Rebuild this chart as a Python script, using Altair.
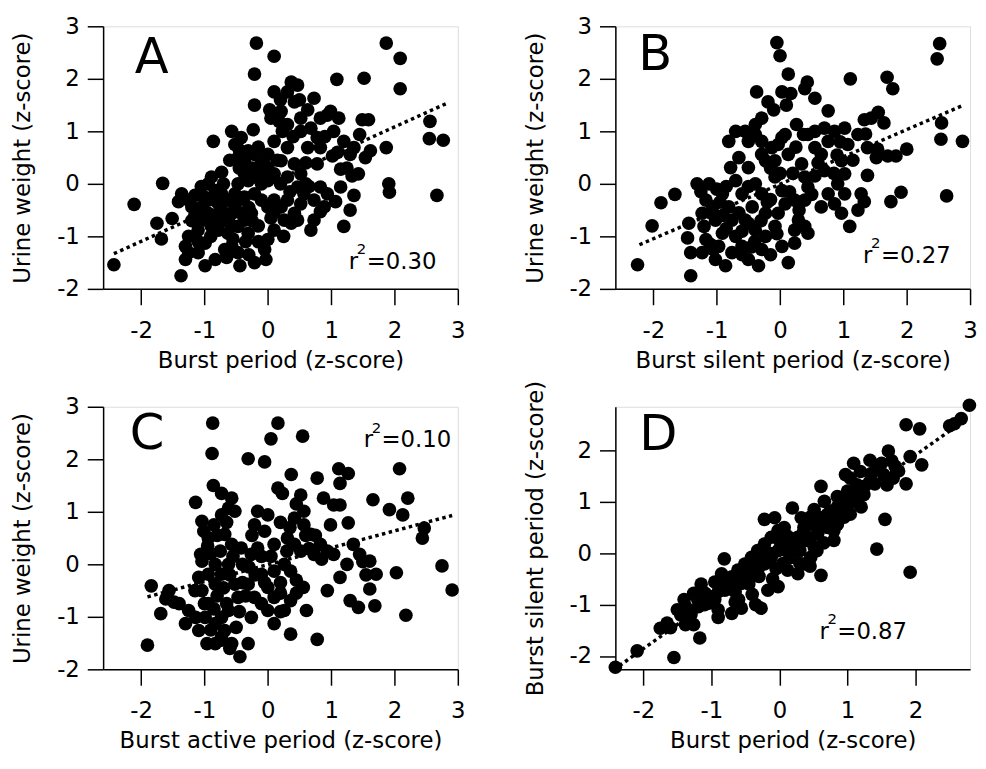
import altair as alt
import pandas as pd

FONT = "DejaVu Sans"

# ---------------- Panel A: Burst period vs Urine weight ----------------
a_x = [-0.18, 0.10, -0.21, 1.87, 2.09, 2.09, 1.09, 1.52, 2.56, 2.55, 2.77, 2.67, 1.91, 1.92,
       -2.43, -2.11, -1.66, -1.75, -1.68, -1.51, -1.37, -0.86, 1.20, 1.30, 1.36, 0.68, 1.07,
       1.43, 1.33, 1.87, 1.62, 1.54, 1.59, 1.49, 1.45, 1.15, 1.02, 1.30, 1.36, 1.20, 1.04,
       1.12, 0.99, 0.73, 0.63, 0.52, 0.68, 0.78, 0.83, 0.63, 0.78, 0.52, 0.47, 0.57, 0.52,
       0.73, 0.83, 0.89, 0.83, 0.31, 0.37, 0.47, 0.31, 0.42, 0.10, 0.21, 0.18, 0.03, -0.21,
       0.23, 0.10, 0.00, -0.10, -0.23, -0.57, -0.42, -0.52, -0.47, -0.37, -0.31, -0.21, -0.10,
       0.00, 0.10, 0.00, -0.10, -0.21, -0.37, -0.31, -0.47, -0.73, -0.89, -0.94, -0.83, -0.73,
       -0.63, -0.52, -0.37, -0.21, -0.10, 0.00, 0.10, 0.21, 0.31, 0.26, 0.37, 0.47, 0.10, 0.00,
       -0.05, -0.21, -0.03, -0.44, -0.47, -0.57, -0.63, -0.47, -0.37, -0.26, -0.31, -0.73,
       -0.78, -0.68, -0.94, -1.04, -1.10, -1.25, -1.30, -1.25, -1.30, -1.10, -0.99, -0.83,
       -0.68, -0.99, -1.36, -1.25, -1.15, -1.20, -1.41, -1.04, -0.94, -0.89, -0.52, -0.42,
       0.31, 0.42, 0.21, 0.31, 0.05, 0.52, 0.83, 0.94, 0.42, 0.94, 1.15, 0.73,
       -0.45, -0.15, -0.05, -0.60, -0.25, -0.80, -0.60, -0.55, -0.90, -1.15, -0.35, -0.15,
       -0.45, -0.65, -0.85, -1.00, -0.30, -0.70, -1.20, 0.60, 0.90, 0.50, 0.20, 1.10, 0.40,
       0.15, 1.25, 0.35, 0.65, 0.20, 0.10, 0.25, -0.15, 0.60,
       -1.05, -0.75, -0.55, -0.30, -0.90, -0.60, -0.25, 0.05, -1.10, -0.45]
a_y = [2.68, 2.43, 2.09, 2.68, 2.39, 1.81, 1.99, 2.01, 1.19, 0.86, 0.83, -0.22, 0.00, -0.16,
       -1.54, -0.39, 0.01, -0.75, -1.05, -0.66, -1.75, 0.81, -0.81, -0.50, -0.22, -0.88, -0.34,
       0.19, 0.15, 0.69, 0.63, 0.50, 1.22, 1.22, 0.94, 0.28, 0.53, 0.56, 0.69, 0.81, 1.00,
       1.25, 1.38, 1.63, 1.41, 1.00, 1.06, 0.88, 0.69, 0.69, 0.38, 0.19, -0.06, -0.19, -0.38,
       -0.31, -0.06, -0.44, -0.53, 0.69, 1.94, 1.88, 1.75, 1.56, 1.75, 1.38, 1.19, 1.41, 1.50,
       1.00, 0.81, 0.56, 0.44, 1.03, 1.00, 0.88, 0.75, 0.50, 0.44, 0.63, 0.56, 0.25,
       0.31, 0.19, 0.06, 0.00, 0.13, 0.19, 0.06, 0.00, 0.22, 0.13, 0.00, -0.13, -0.19,
       -0.31, -0.19, -0.25, -0.19, -0.31, -0.44, -0.31, -0.44, -0.31, -0.69, -0.75, -0.69, -0.88, -1.06,
       -1.25, -1.50, -1.44, -1.56, -1.31, -1.19, -0.94, -0.81, -0.69, -0.56, -0.94, -0.69,
       -0.88, -0.56, -0.56, -0.69, -0.88, -1.00, -1.19, -1.31, -1.44, -1.31, -1.56, -1.44,
       -1.25, -1.13, -0.19, -0.31, -0.22, -0.44, -0.34, -0.44, -0.31, -0.81, -0.44, -0.56,
       0.13, 0.38, 0.44, 1.13, 1.25, 1.25, 1.25, 1.31, -0.56, -0.19, -0.06, -0.69,
       0.65, 0.70, 0.35, 0.45, 0.30, -0.35, -0.75, -1.05, -1.00, -0.60, -1.10, -0.80,
       -0.30, -1.40, -0.60, -0.25, -1.35, 0.00, -0.70, 0.40, 0.90, 1.60, 1.60, 0.60, 0.90,
       0.45, 0.30, -0.15, -0.05, 0.00, -0.55, -1.00, -1.10, 0.00,
       -0.05, -0.45, -0.55, -0.45, -0.75, -1.30, -0.70, -0.65, -1.10, 0.30]
a_fit_x = [-2.43, 2.82]
a_fit_y = [-1.33, 1.53]

# ---------------- Panel B: Burst silent period vs Urine weight ----------------
b_x = [-2.25, -2.02, -1.88, -1.66, -1.41, -1.44, -1.46, -1.41, -1.31, -1.12, -1.17, -1.23, -1.20,
       -1.17, -1.23, -1.02, -0.97, -0.91, -1.02, -1.07, -0.91, -0.81, -0.76, -0.86, -0.76, -0.70,
       -0.60, -0.50, -0.34, -0.29, -0.23, -0.39, -0.55, -0.44, -0.60, -0.70, -0.78, -0.65, -0.50,
       -0.39, -0.29, -0.23, -0.08, 0.03, 0.13, 0.23, 0.23, 0.39, 0.44, 0.29, -0.03, 0.08, 0.03,
       -0.08, -0.23, -0.29, -0.08, -0.13, 0.03, 0.13, 0.34, 0.39, 0.44, 0.39, 0.23, 0.65, 0.86,
       0.97, 1.10, 1.02, 0.91, 0.76, 1.02, 0.97, 1.07, 1.23, 1.02, 0.86, 0.70, 0.76, 0.65, 0.55,
       0.70, 0.44, 0.37, 0.26, 0.08, -0.03, -0.29, -0.39, -0.50, -0.55, -0.70, -0.81, -0.37,
       -0.19, -0.10, -0.29, -0.39, -0.05, 0.00, 0.13, 0.03, 0.17, 0.10, 0.43, 0.39, 0.55, 0.76,
       1.11, 1.69, 1.78, 1.33, 1.44, 1.55, 1.64, 1.38, 1.54, 1.52, 1.70, 1.83, 2.00, 1.38, 1.28,
       1.33, 1.23, 1.91, 1.75, 2.52, 2.48, 2.55, 2.54, 2.88, 2.63,
       -0.90, -0.60, -0.40, -0.15, -1.00, -0.50, -0.15, -1.10,
       -1.25, -1.10, -0.95, -0.85, -0.65, -0.50, -0.30, -0.20, -0.05, -0.60, -1.05, -0.45,
       -0.85, -0.15, 0.00, 0.20, 0.15, 0.55, 0.60, 0.90, 0.85, 1.15, 0.50, 0.30, 0.25, 0.55,
       0.95, 1.35]
b_y = [-1.54, -0.80, -0.36, -0.20, -1.75, -0.75, -1.03, -1.31, 0.00, 0.00, -0.31, -0.56, -0.81,
       -1.06, -1.31, -1.44, -1.19, -0.94, -0.69, -0.44, -0.19, -0.44, -0.69, -1.56, -1.31, -1.00,
       -1.19, -1.44, -1.56, -1.25, -1.00, -0.88, -0.69, -0.44, -0.19, 0.06, 0.31, 0.50, 0.31,
       0.00, -0.19, -0.56, -0.81, -1.19, -1.50, -1.13, -0.88, -0.81, -0.94, -0.69, -0.56, -0.38, -0.13,
       0.13, 0.44, 0.56, 0.44, 0.69, 0.88, 0.56, 0.38, 0.13, -0.06, -0.31, -0.31, -0.44, -0.38,
       -0.56, -0.81, -0.19, 0.00, -0.19, 0.19, 0.44, 0.75, 0.94, 1.06, 1.00, 1.06, 0.81, 0.56, 0.69,
       0.25, 0.94, 0.94, 1.13, 0.94, 0.75, 0.81, 0.94, 0.81, 1.00, 1.00, 0.81, 1.75,
       1.56, 1.41, 1.25, 1.13, 2.69, 2.44, 2.09, 1.75, 1.72, 1.50, 1.94, 1.81, 1.63, 1.39,
       2.00, 2.03, 1.81, 1.22, 1.25, 1.36, 1.16, 0.69, 0.66, 0.50, 0.53, 0.53, 0.66, 0.16, -0.19,
       -0.34, -0.50, -0.16, -0.34, 2.67, 2.38, 1.16, 0.85, 0.81, -0.23,
       -0.60, -0.90, -1.10, -0.30, -0.10, -0.05, -1.35, -1.15,
       -0.15, -0.55, -0.35, -0.85, -0.55, -0.75, -0.70, -0.35, -0.95, -1.35, -1.25, -1.20,
       -0.05, 0.30, 0.20, 0.20, -0.15, 0.15, 0.40, 0.55, 0.20, 0.45, -0.20, -0.50, 0.70, 1.00,
       0.80, 0.95]
b_fit_x = [-2.22, 2.88]
b_fit_y = [-1.16, 1.49]

# ---------------- Panel C: Burst active period vs Urine weight ----------------
c_x = [-0.87, 0.16, 0.05, 0.55, -0.88, -0.31, -0.05, 0.37, 0.78, 1.12, 1.27, 1.14, 2.08, 0.16,
       0.23, 0.52, 0.88, 1.04, 1.14, 1.66, 2.21, 1.92, 2.13, -0.86, -0.73, -0.57, -1.14, -1.04,
       -1.01, -0.94, -0.73, -0.62, -0.52, -0.68, -0.57, -0.42, -0.26, -0.16, -0.16, 0.00, -0.21,
       -0.05, 0.10, 0.31, 0.42, 0.57, 0.57, 0.68, 0.83, 0.42, 0.52, 0.73, 0.94, 1.04, 0.99, 1.27,
       1.35, 1.45, 1.61, 1.71, 1.25, 1.14, 0.94, 1.30, 1.43, 1.61, 1.69, 2.03, 2.47, 2.44,
       2.75, 2.91, 2.18, 0.56, 0.61, 0.78, 0.36, 0.36, 0.26, 0.10, 0.00, -0.10, 0.10, 0.26, 0.36,
       -0.31, -0.21, -0.26, 0.00, 0.10, -0.31, -0.44, -0.57, -0.68, -0.73, -0.62, -0.47, -0.52,
       -0.73, -0.62, -0.83, -0.94, -1.04, -1.06, -1.09, -1.04, -0.94, -0.83, -0.99, -1.09, -0.96,
       -0.83, -1.30, -1.25, -1.40, -1.69, -1.61, -1.48, -1.56, -1.84, -1.90, -1.14, -0.83, -0.73,
       -0.90, -0.80, -0.70, -0.60, -0.45, -0.35, -0.20, -0.40, -0.85, -0.75, 0.20, 0.45, 0.30,
       0.65, 0.75, 0.20, 0.45, -0.50, -0.90, -0.10, 0.20, 0.45, 1.50, 1.55, -1.15, -1.00,
       -0.95, -0.80, -0.65, -0.55, -0.30, -0.10, -0.25, 0.05, 0.35, 0.60, 0.85, -0.65, -0.85,
       -0.40, -0.05, 0.20, -0.75, -0.60]
c_y = [2.69, 2.69, 2.39, 2.44, 2.11, 2.01, 1.95, 1.71, 1.64, 1.82, 1.73, 1.54, 1.82, 1.45,
       1.35, 1.32, 1.26, 1.13, 1.13, 1.23, 1.26, 1.04, 0.94, 1.50, 1.35, 1.26, 1.18, 0.82,
       0.63, 0.50, 0.94, 1.07, 1.01, 0.57, 0.38, 0.31, 0.19, 0.31, 1.01, 0.94, 0.75,
       0.63, 0.38, 0.50, 0.88, 1.01, 0.75, 0.57, 0.38, 0.38, 0.25, 0.19, 0.25, 0.19, 0.75, 0.79,
       0.38, 0.19, 0.06, -0.19, 0.00, -0.25, -0.50, -0.69, -0.82, -0.47, -0.79, -0.16, 0.69, 0.50,
       -0.03, -0.49, -0.97, -0.44, -0.88, -1.43, -1.33, -0.69, -0.88, -0.63, -0.44, -0.19, -0.13, 0.00, -0.13,
       -0.38, -0.63, -1.01, -0.88, -1.13, -1.51, -1.76, -1.51, -1.26, -1.01, -0.88, -0.63, -0.38,
       -0.19, 0.00, 0.00, -0.19, 0.06, 0.19, -0.25, -0.50, -0.75, -0.38, -1.01, -1.26, -1.51,
       -1.51, -1.13, -0.88, -0.75, -0.94, -0.66, -0.72, -0.50, -0.41, -1.54, -1.01, -1.13, -1.38,
       0.20, -0.60, -0.45, -0.20, -0.90, -0.60, -0.20, 0.00, 0.75, 0.25, -0.35, -0.30, 0.25,
       0.30, 0.55, 0.80, 1.15, -1.20, -1.25, -0.75, -0.90, -0.55, 0.05, -0.20, -0.50, -0.75,
       0.35, 0.55, 0.80, 0.15, -0.05, 0.15, 0.55, 0.15, 0.70, 0.55, 0.10, -0.75, -0.85,
       -0.35, -0.35, -0.55, -1.45, -1.60]
c_fit_x = [-1.90, 2.91]
c_fit_y = [-0.62, 0.93]

# ---------------- Panel D: Burst period vs Burst silent period ----------------
d_x = [-2.41, -2.09, -1.55, -1.75, -1.65, -1.50, -1.38, -1.26, -1.17, -1.26, -1.38, -1.19, -1.04,
       -0.90, -0.70, -0.56, -0.27, -0.17, -0.02, -1.09, -0.95, -0.80, -0.85, -0.81, -0.70, -0.61,
       -0.51, -0.41, -0.32, -0.22, -0.12, -0.02, -0.56, -0.41, -0.32, -0.22, -0.12, -0.02, 0.07,
       -0.22, -0.07, 0.07, 0.19, 0.32, 0.36, 0.27, 0.17, 0.12, 0.27, 0.36, 0.46, 0.51, 0.61, 0.56,
       0.51, 0.61, 0.61, 0.66, 0.75, 0.85, 0.80, 0.70, 0.95, 1.00, 1.04, 1.04, 0.97, 1.09, 1.19,
       1.14, 1.24, 1.33, 1.33, 1.43, 1.53, 1.58, 1.60, 1.70, 1.67, 1.86, 1.55, 1.43, 1.92, 1.86,
       2.06, 1.92, 2.09, 2.79, 2.67, 2.57, 2.50,
       -1.00, -0.90, -0.75, -0.65, -0.45, -0.35, -0.15, 0.00, 0.10, 0.20, 0.30, 0.40, 0.50, 0.45,
       0.65, 0.80, 0.90, 1.10, 1.20, 0.85, 1.35, -1.45, -1.30, -0.60, -0.10, 0.05, -1.15, -1.40,
       -1.60, -1.30, -1.10, -0.95, -0.85, -0.70, -0.55, -0.45, -0.30, -0.25, -0.05, 0.10, 0.15,
       0.25, 0.35, 0.45, 0.55, 0.70, 0.75, 0.85, 0.95, 1.00, 1.15, 1.25, 1.40, 1.50, 1.65, 1.75,
       0.30, 0.45, 0.55, -0.65, -0.40, -0.35, -0.90, -1.20]
d_y = [-2.22, -1.90, -2.03, -1.46, -1.36, -1.10, -1.39, -1.39, -1.65, -0.78, -1.04, -1.04, -0.97,
       -1.10, -1.17, -1.07, -1.07, -0.72, -0.65, -0.78, -0.56, -0.72, -0.40, -0.11, -0.46, -0.33,
       -0.21, -0.08, 0.05, 0.18, 0.31, 0.44, -0.59, -0.46, -0.33, -0.21, -0.08, 0.05, 0.18,
       0.66, 0.69, 0.50, 0.88, 0.69, 0.50, 0.31, -0.08, -0.33, -0.40, -0.21, -0.08, 0.12, -0.43, 0.37,
       0.85, 0.69, 1.30, 1.01, 0.82, 0.56, 0.44, 0.50, 0.95, 1.21, 0.76, 1.46, 1.53, 1.75, 1.59,
       1.33, 1.14, 1.40, 1.81, 1.69, 1.53, 1.33, 1.99, 1.69, 1.46, 1.35, 0.66, 0.08, -0.37, 2.50,
       2.42, 1.88, 1.72, 2.88, 2.62, 2.52, 2.48,
       -0.85, -0.75, -0.60, -0.75, -0.35, -0.15, 0.00, 0.25, 0.35, 0.10, 0.05, 0.25, 0.55, 0.70,
       0.20, 0.25, 0.70, 1.00, 0.90, 1.10, 1.55, -1.20, -1.15, -0.90, -0.50, -0.20, -0.60, -0.90,
       -1.45, -1.20, -1.00, -0.90, -0.65, -0.70, -0.45, -0.60, -0.45, -0.10, -0.30, 0.05, 0.30,
       0.15, 0.40, 0.30, 0.60, 0.75, 0.60, 0.90, 0.70, 1.00, 1.15, 1.30, 1.35, 1.75, 1.80, 1.60,
       -0.20, -0.25, 0.05, -0.95, -0.80, -1.00, -1.25, -0.90]
d_fit_x = [-2.35, 2.54]
d_fit_y = [-2.19, 2.42]

ticks_a = [-2, -1, 0, 1, 2, 3]
ticks_d = [-2, -1, 0, 1, 2]

W, H = 358, 265


def make_axis(values, title, orient):
    common = dict(
        values=values, title=title, labelExpr="datum.value + ''",
        tickSize=16, tickWidth=1.5, tickColor="black",
        domainWidth=1.5, domainColor="black", grid=False,
        labelFont=FONT, labelFontSize=23, labelColor="black", labelFlush=False,
        labelOverlap=False,
        titleFont=FONT, titleFontSize=23, titleFontWeight="normal", titleColor="black",
    )
    if orient == "x":
        return alt.Axis(labelPadding=15, titlePadding=7, **common)
    return alt.Axis(labelPadding=8, titlePadding=22, **common)


def text_layer(txt, px, py, size, align="left"):
    return alt.Chart(pd.DataFrame({"t": [txt]})).mark_text(
        font=FONT, fontSize=size, color="black", align=align, baseline="alphabetic"
    ).encode(x=alt.value(px), y=alt.value(py), text="t:N")


def panel(px, py, fx, fy, xdom, ydom, xticks, yticks, xtitle, ytitle,
          letter, lpos, r2, rpos):
    xs = alt.Scale(domain=xdom, nice=False, zero=False)
    ys = alt.Scale(domain=ydom, nice=False, zero=False)
    xa = make_axis(xticks, xtitle, "x")
    ya = make_axis(yticks, ytitle, "y")
    pts = alt.Chart(pd.DataFrame({"x": px, "y": py})).mark_circle(
        size=190, color="black", opacity=1
    ).encode(x=alt.X("x:Q", scale=xs, axis=xa), y=alt.Y("y:Q", scale=ys, axis=ya))
    fit = alt.Chart(pd.DataFrame({"x": fx, "y": fy})).mark_line(
        color="black", strokeWidth=3.5, strokeDash=[3.5, 3.5]
    ).encode(x=alt.X("x:Q", scale=xs, axis=xa), y=alt.Y("y:Q", scale=ys, axis=ya))
    rx, ry = rpos
    layers = [
        fit, pts,
        text_layer(letter, lpos[0], lpos[1], 50),
        text_layer("r", rx, ry, 23),
        text_layer("2", rx + 8, ry - 15, 15),
        text_layer("=" + r2, rx + 18, ry, 23),
    ]
    return alt.layer(*layers).properties(width=W, height=H)


pA = panel(a_x, a_y, a_fit_x, a_fit_y, [-2.6, 3.0], [-2.0, 3.0], ticks_a, ticks_a,
           "Burst period (z-score)", "Urine weight (z-score)", "A", (32, 47), "0.30", (248, 245))
pB = panel(b_x, b_y, b_fit_x, b_fit_y, [-2.6, 3.0], [-2.0, 3.0], ticks_a, ticks_a,
           "Burst silent period (z-score)", "Urine weight (z-score)", "B", (23, 44), "0.27", (250, 239))
pC = panel(c_x, c_y, c_fit_x, c_fit_y, [-2.6, 3.0], [-2.0, 3.0], ticks_a, ticks_a,
           "Burst active period (z-score)", "Urine weight (z-score)", "C", (27, 43), "0.10", (263, 41))
pD = panel(d_x, d_y, d_fit_x, d_fit_y, [-2.41, 2.8], [-2.26, 2.85], ticks_d, ticks_d,
           "Burst period (z-score)", "Burst silent period (z-score)", "D", (24, 44), "0.87", (206, 234))

chart = alt.concat(
    pA, pB, pC, pD, columns=2, spacing={"row": 119, "column": 159}, bounds="flush"
).properties(
    padding={"left": 3, "top": 3, "right": 0, "bottom": 0}
).configure_view(stroke=None).configure(background="white")

chart.save("out.html", embed_options={"renderer": "svg", "actions": False})
